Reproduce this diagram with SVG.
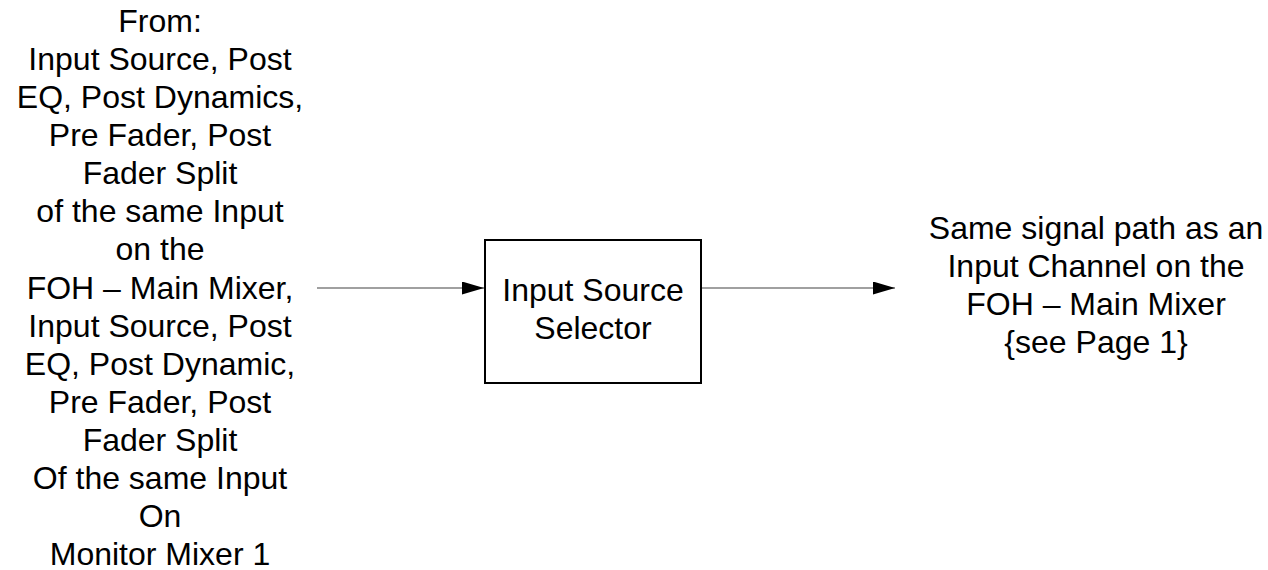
<svg xmlns="http://www.w3.org/2000/svg" width="1268" height="570" viewBox="0 0 1268 570">
<style>
text{font-family:"Liberation Sans",Arial,sans-serif;font-size:32px;fill:#000;text-anchor:middle}
.conn{stroke:#808080;stroke-width:1.5;fill:none}
.box{fill:#fff;stroke:#000;stroke-width:2}
</style>
<defs>
<marker id="arr" viewBox="0 0 22 13" refX="22" refY="6.5" markerWidth="22" markerHeight="13" markerUnits="userSpaceOnUse" orient="auto">
<path d="M0,0 L22,6.5 L0,13 Z" fill="#000"/>
</marker>
</defs>
<rect width="1268" height="570" fill="#fff"/>
<g id="source-label">
<text x="160" y="32">From:</text>
<text x="160" y="70">Input Source, Post</text>
<text x="160" y="108">EQ, Post Dynamics,</text>
<text x="160" y="146">Pre Fader, Post</text>
<text x="160" y="184">Fader Split</text>
<text x="160" y="222">of the same Input</text>
<text x="160" y="260">on the</text>
<text x="160" y="298.5">FOH – Main Mixer,</text>
<text x="160" y="337">Input Source, Post</text>
<text x="160" y="375">EQ, Post Dynamic,</text>
<text x="160" y="413">Pre Fader, Post</text>
<text x="160" y="451">Fader Split</text>
<text x="160" y="489">Of the same Input</text>
<text x="160" y="527">On</text>
<text x="160" y="565">Monitor Mixer 1</text>
</g>
<g id="selector">
<rect class="box" x="485" y="240" width="216" height="143"/>
<text x="593" y="301">Input Source</text>
<text x="593" y="339">Selector</text>
</g>
<g id="dest-label">
<text x="1096" y="239">Same signal path as an</text>
<text x="1096" y="277">Input Channel on the</text>
<text x="1096" y="315">FOH – Main Mixer</text>
<text x="1096" y="353">{see Page 1}</text>
</g>
<g id="connectors">
<line class="conn" x1="317" y1="288" x2="484" y2="288" marker-end="url(#arr)"/>
<line class="conn" x1="702" y1="288" x2="895" y2="288" marker-end="url(#arr)"/>
</g>
</svg>
